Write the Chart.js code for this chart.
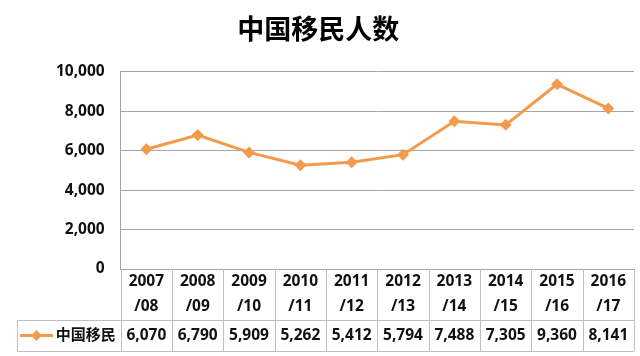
<!DOCTYPE html>
<html>
<head>
<meta charset="utf-8">
<script src="https://cdn.jsdelivr.net/npm/chart.js@4.4.1/dist/chart.umd.min.js"></script>
<style>
html,body{margin:0;padding:0;background:#fff;}
#wrap{width:640px;height:356px;position:relative;}
</style>
</head>
<body>
<div id="wrap"><canvas id="c" width="640" height="356"></canvas></div>
<script>
const title = '中国移民人数';
const seriesName = '中国移民';
const categories = [['2007','/08'],['2008','/09'],['2009','/10'],['2010','/11'],['2011','/12'],['2012','/13'],['2013','/14'],['2014','/15'],['2015','/16'],['2016','/17']];
const values = [6070, 6790, 5909, 5262, 5412, 5794, 7488, 7305, 9360, 8141];
const yTicks = [0, 2000, 4000, 6000, 8000, 10000];

const FONT = '"Open Sans", "Noto Sans CJK SC", sans-serif';
const ORANGE = '#F39A4C';
const GRID = '#a6a6a6';
const BORDER = '#bfbfbf';
const fmt = v => v.toLocaleString('en-US');

const tablePlugin = {
  id: 'dataTable',
  afterDraw(chart) {
    const ctx = chart.ctx;
    const ca = chart.chartArea;
    const xs = chart.scales.x;
    const n = categories.length;
    const w = (ca.right - ca.left) / n;
    const top = ca.bottom;
    const mid = top + 51;
    const bot = top + 82;
    const legendLeft = 17;
    ctx.save();
    ctx.strokeStyle = BORDER;
    ctx.lineWidth = 1;
    ctx.beginPath();
    for (let i = 0; i <= n; i++) {
      const x = Math.round(ca.left + i * w) + 0.5;
      ctx.moveTo(x, top); ctx.lineTo(x, bot);
    }
    ctx.moveTo(legendLeft + 0.5, mid); ctx.lineTo(legendLeft + 0.5, bot);
    ctx.moveTo(legendLeft, Math.round(mid) + 0.5); ctx.lineTo(ca.right, Math.round(mid) + 0.5);
    ctx.moveTo(legendLeft, Math.round(bot) + 0.5); ctx.lineTo(ca.right, Math.round(bot) + 0.5);
    ctx.stroke();

    const rowY = (mid + bot) / 2;
    ctx.fillStyle = '#111';
    ctx.font = 'bold 15.5px ' + FONT;
    ctx.textAlign = 'center';
    ctx.textBaseline = 'middle';
    values.forEach((v, i) => {
      ctx.fillText(fmt(v), xs.getPixelForValue(i), rowY);
    });
    // legend
    ctx.textAlign = 'right';
    ctx.font = 'bold 15px ' + FONT;
    ctx.fillText(seriesName, ca.left - 5, rowY);
    ctx.strokeStyle = ORANGE;
    ctx.lineWidth = 3;
    ctx.beginPath();
    ctx.moveTo(20, rowY); ctx.lineTo(53, rowY);
    ctx.stroke();
    ctx.fillStyle = ORANGE;
    ctx.beginPath();
    const cx = 36.5, r = 5.5;
    ctx.moveTo(cx, rowY - r); ctx.lineTo(cx + r, rowY); ctx.lineTo(cx, rowY + r); ctx.lineTo(cx - r, rowY); ctx.closePath();
    ctx.fill();
    ctx.restore();
  }
};

new Chart(document.getElementById('c'), {
  type: 'line',
  data: {
    labels: categories,
    datasets: [{
      label: seriesName,
      data: values,
      borderColor: ORANGE,
      backgroundColor: ORANGE,
      borderWidth: 3,
      pointStyle: 'rectRot',
      pointRadius: 6,
      pointBorderWidth: 0,
      tension: 0
    }]
  },
  options: {
    responsive: false,
    animation: false,
    devicePixelRatio: 1,
    layout: { padding: { left: 0, right: 3.3, top: 0, bottom: 0 } },
    plugins: {
      legend: { display: false },
      tooltip: { enabled: false },
      title: {
        display: true,
        text: title,
        color: '#000',
        font: { family: '"Noto Sans CJK SC", sans-serif', size: 27, weight: 'bold', lineHeight: 1.2 },
        padding: { top: 13, bottom: 26.3 }
      }
    },
    scales: {
      x: {
        offset: true,
        grid: { display: false, drawTicks: false },
        border: { display: false },
        ticks: {
          color: '#111',
          padding: 0.2,
          maxRotation: 0,
          autoSkip: false,
          font: { family: FONT, size: 15.5, weight: 'bold', lineHeight: 25 / 15.5 }
        },
        afterFit(s) { s.height = 87; }
      },
      y: {
        min: 0,
        max: 10000,
        afterBuildTicks(s) { s.ticks = yTicks.map(v => ({ value: v })); },
        grid: { color: GRID, drawTicks: false },
        border: { display: true, color: GRID },
        ticks: {
          color: '#111',
          padding: 16,
          font: { family: FONT, size: 15.5, weight: 'bold' },
          callback: v => fmt(v)
        },
        afterFit(s) { s.width = 120.7; }
      }
    }
  },
  plugins: [tablePlugin]
});
</script>
</body>
</html>
